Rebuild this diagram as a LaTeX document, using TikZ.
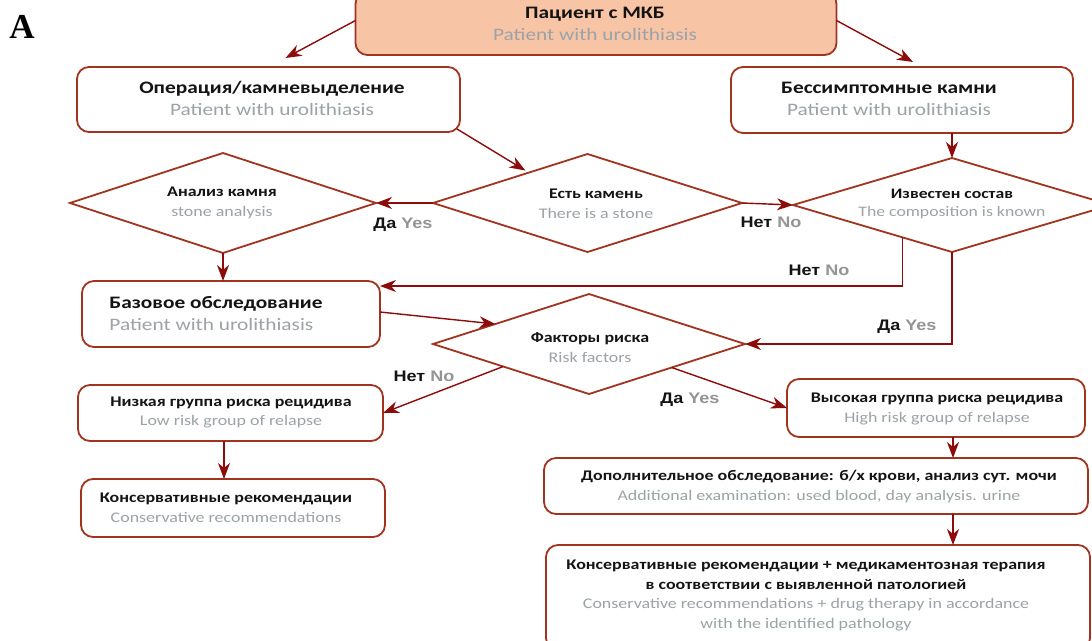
\documentclass[tikz,border=0pt]{standalone}
\usepackage{fontspec}
\setmainfont{Carlito}
\newfontfamily\cf[FakeStretch=1.22]{Carlito}
\newfontfamily\lf[FakeStretch=1.18]{Liberation Sans}
\newfontfamily\af{Liberation Serif}
\usetikzlibrary{shapes.geometric,arrows.meta,calc}
\definecolor{boxc}{RGB}{160,52,32}
\definecolor{arrc}{RGB}{140,12,12}
\definecolor{topfill}{RGB}{248,196,166}
\definecolor{gtx}{RGB}{155,163,167}
\definecolor{dtx}{RGB}{20,20,20}
\definecolor{lgr}{RGB}{148,148,148}
\begin{document}
\begin{tikzpicture}[x=1pt,y=-1pt,
 box/.style={draw=boxc,line width=1.8pt,rounded corners=12pt,inner sep=0pt,outer sep=0pt},
 dia/.style={draw=boxc,line width=1.8pt,diamond,inner sep=0pt,outer sep=0pt},
 bigt/.style={font=\cf\fontsize{17.5}{22}\selectfont,align=center,inner sep=0pt,text=dtx},
 smt/.style={font=\cf\fontsize{14.7}{19.5}\selectfont,align=center,inner sep=0pt,text=dtx},
 lab/.style={font=\lf\bfseries\fontsize{15.3}{18}\selectfont,inner sep=0pt},
 arr/.style={draw=arrc,line width=1.4pt,-{Stealth[length=16pt,width=12pt,inset=5pt]}}
]
\useasboundingbox (0,0) rectangle (1092,640);
\fill[white] (0,0) rectangle (1092,640);

% label A
\node (lblA) at (22,27) {\af\bfseries\fontsize{35}{40}\selectfont A};

% boxes
\node[box,fill=topfill,minimum width=481pt,minimum height=63pt] (top) at (596,23.5) {};
\node[bigt] (topt) at (595,24) {\textbf{Пациент с МКБ}\\\textcolor{gtx}{Patient with urolithiasis}};

\node[box,minimum width=383pt,minimum height=65pt] (op) at (268.5,99.5) {};
\node[bigt] (opt) at (272,98) {\textbf{Операция/камневыделение}\\\textcolor{gtx}{Patient with urolithiasis}};

\node[box,minimum width=342pt,minimum height=66pt] (bess) at (902,100) {};
\node[bigt] (besst) at (889,99) {\textbf{Бессимптомные камни}\\\textcolor{gtx}{Patient with urolithiasis}};

\node[box,minimum width=298pt,minimum height=66pt] (baz) at (231,314) {};
\node[bigt,align=left] (bazt) at (216,314) {\textbf{Базовое обследование}\\\textcolor{gtx}{Patient with urolithiasis}};

\node[box,minimum width=305pt,minimum height=56pt] (niz) at (230.5,413) {};
\node[smt] (nizt) at (231,412.5) {\textbf{Низкая группа риска рецидива}\\\textcolor{gtx}{Low risk group of relapse}};

\node[box,minimum width=304pt,minimum height=58pt] (kon) at (233,508) {};
\node[smt] (kont) at (226,508) {\textbf{Консервативные рекомендации}\\\textcolor{gtx}{Conservative recommendations}};

\node[box,minimum width=298pt,minimum height=58pt] (vys) at (936,408) {};
\node[smt] (vyst) at (937,409) {\textbf{Высокая группа риска рецидива}\\\textcolor{gtx}{High risk group of relapse}};

\node[box,minimum width=544pt,minimum height=56pt] (dop) at (816,486) {};
\node[smt] (dopt) at (819,486.5) {\textbf{Дополнительное обследование: б/х крови, анализ сут. мочи}\\\textcolor{gtx}{Additional examination: used blood, day analysis. urine}};

\node[box,minimum width=544pt,minimum height=105pt] (kon2) at (818,597.5) {};
\node[smt] (kon2t) at (806,595.5) {\textbf{Консервативные рекомендации + медикаментозная терапия}\\\textbf{в соответствии с выявленной патологией}\\\textcolor{gtx}{Conservative recommendations + drug therapy in accordance}\\\textcolor{gtx}{with the identified pathology}};

% diamonds
\node[dia,minimum width=306pt,minimum height=100pt] (an) at (223,203) {};
\node[smt] (ant) at (222,203) {\textbf{Анализ камня}\\\textcolor{gtx}{stone analysis}};

\node[dia,minimum width=309pt,minimum height=98pt] (est) at (587.5,203) {};
\node[smt] (estt) at (596,204) {\textbf{Есть камень}\\\textcolor{gtx}{There is a stone}};

\node[dia,minimum width=318pt,minimum height=94pt] (izv) at (952,205) {};
\node[smt,font=\cf\fontsize{14.5}{18}\selectfont] (izvt) at (952,204) {\textbf{Известен состав}\\\textcolor{gtx}{The composition is known}};

\node[dia,minimum width=312pt,minimum height=100pt] (fak) at (589,344) {};
\node[smt] (fakt) at (590,347.5) {\textbf{Факторы риска}\\\textcolor{gtx}{Risk factors}};

% connectors
\draw[arr] ($(top.west)+(0,-3)$) -- ($(op.north)+(17,-9)$);
\draw[arr] ($(top.east)+(0,-3)$) -- ($(bess.north)+(11,-5)$);
\draw[arr,shorten >=4pt] ($(op.south east)+(-3,-3)$) -- ($(est.west)!0.62!(est.north)$);
\draw[arr] ([xshift=50pt]bess.south) -- (izv.north);
\draw[arr] (est.west) -- (an.east);
\draw[arr] (est.east) -- (izv.west);
\draw[arr] (an.south) -- (an.south |- baz.north);
\draw[arr] ($(izv.west)!0.69!(izv.south)$) |- ($(baz.east)+(0,-28)$);
\draw[arr] (izv.south) |- (fak.east);
\draw[arr] ($(baz.east)+(0,-2)$) -- ($(fak.west)!0.4!(fak.north)$);
\draw[arr] ($(fak.west)!0.45!(fak.south)$) -- (niz.east);
\draw[arr] ($(fak.south)!0.53!(fak.east)$) -- (vys.west);
\draw[arr] ([xshift=-6.5pt]niz.south) -- ([xshift=-9pt]kon.north);
\draw[arr] ([xshift=17pt]vys.south) -- ([xshift=137pt]dop.north);
\draw[arr] ([xshift=137pt]dop.south) -- ([xshift=135pt]kon2.north);

% labels
\node[lab] (l1) at (403,225) {\textcolor{dtx}{Да} \textcolor{lgr}{Yes}};
\node[lab] (l2) at (771,222) {\textcolor{dtx}{Нет} \textcolor{lgr}{No}};
\node[lab] (l3) at (819,270) {\textcolor{dtx}{Нет} \textcolor{lgr}{No}};
\node[lab] (l4) at (907,327) {\textcolor{dtx}{Да} \textcolor{lgr}{Yes}};
\node[lab] (l5) at (424,376) {\textcolor{dtx}{Нет} \textcolor{lgr}{No}};
\node[lab] (l6) at (690,400) {\textcolor{dtx}{Да} \textcolor{lgr}{Yes}};
\end{tikzpicture}
\end{document}
